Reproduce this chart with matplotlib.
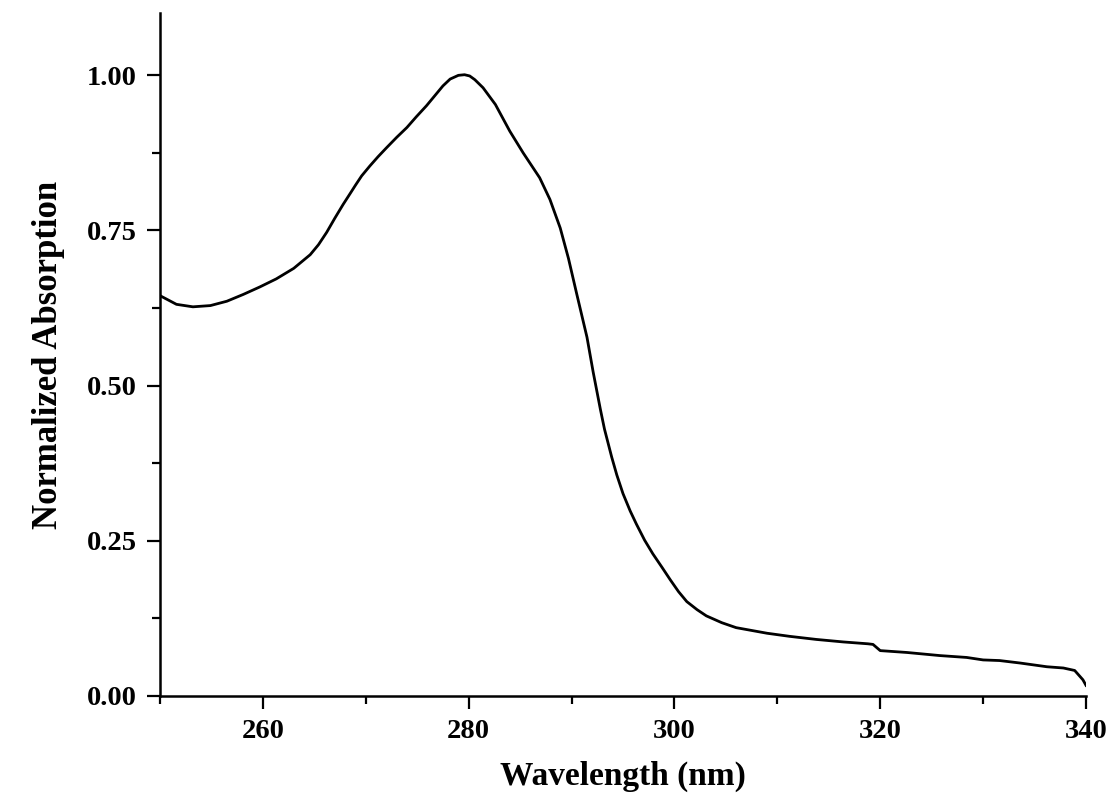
import matplotlib
matplotlib.use("Agg")
import matplotlib.pyplot as plt
from matplotlib.ticker import MultipleLocator, FixedLocator

wavelength = [250.0, 251.6, 253.2, 254.9, 256.5, 258.1, 259.7, 261.3, 263.0, 264.6,
              265.4, 266.2, 267.0, 267.8, 268.5, 269.0, 269.6, 270.4, 271.2, 272.0,
              273.0, 274.0, 274.9, 275.9, 276.7, 277.5, 278.2, 279.0, 279.6, 280.1,
              280.6, 281.4, 282.6, 284.0, 285.3, 286.9, 287.9, 288.9, 289.7, 290.5,
              291.5, 292.1, 292.8, 293.2, 293.9, 294.4, 295.0, 295.7, 296.3, 297.1,
              297.9, 298.8, 299.6, 300.4, 301.2, 302.2, 303.1, 304.6, 306.0, 309.0,
              311.2, 313.8, 316.4, 318.8, 319.3, 320.0, 322.6, 325.8, 328.4, 330.0,
              331.6, 333.6, 336.2, 337.8, 338.9, 339.7, 340.0]
absorption = [0.645, 0.631, 0.627, 0.629, 0.636, 0.647, 0.659, 0.672, 0.689, 0.711,
              0.727, 0.747, 0.770, 0.792, 0.810, 0.823, 0.838, 0.854, 0.869, 0.883,
              0.900, 0.916, 0.933, 0.951, 0.967, 0.983, 0.994, 1.000, 1.001, 0.999,
              0.993, 0.980, 0.953, 0.910, 0.875, 0.835, 0.800, 0.754, 0.705, 0.648,
              0.578, 0.522, 0.462, 0.430, 0.385, 0.356, 0.326, 0.298, 0.277, 0.251,
              0.229, 0.207, 0.187, 0.168, 0.152, 0.139, 0.129, 0.118, 0.110, 0.101,
              0.096, 0.091, 0.087, 0.084, 0.083, 0.073, 0.070, 0.065, 0.062, 0.058,
              0.057, 0.053, 0.047, 0.045, 0.041, 0.026, 0.017]

x_major = [260, 280, 300, 320, 340]
y_major = [0.00, 0.25, 0.50, 0.75, 1.00]
y_labels = ["0.00", "0.25", "0.50", "0.75", "1.00"]

plt.rcParams['font.family'] = ['Liberation Serif', 'DejaVu Serif']
plt.rcParams['font.weight'] = 'bold'

fig = plt.figure(figsize=(11.11, 8.05), dpi=100)
ax = fig.add_axes([0.144, 0.1355, 0.8335, 0.848])

ax.plot(wavelength, absorption, color='black', linewidth=2.0,
        solid_joinstyle='round')

ax.set_xlim(250, 340)
ax.set_ylim(0, 1.10)

ax.xaxis.set_major_locator(FixedLocator(x_major))
ax.xaxis.set_minor_locator(MultipleLocator(10))
ax.set_yticks(y_major)
ax.set_yticklabels(y_labels)
ax.yaxis.set_minor_locator(MultipleLocator(0.125))

for s in ['top', 'right']:
    ax.spines[s].set_visible(False)
for s in ['left', 'bottom']:
    ax.spines[s].set_linewidth(1.8)

ax.tick_params(axis='both', which='major', direction='out', length=9.5, width=1.6,
               labelsize=20.5, pad=7)
ax.tick_params(axis='both', which='minor', direction='out', length=6, width=1.6)
for lab in ax.get_xticklabels() + ax.get_yticklabels():
    lab.set_fontweight('bold')

ax.set_xlabel('Wavelength (nm)', fontsize=24, fontweight='bold', labelpad=12)
ax.set_ylabel('Normalized Absorption', fontsize=25, fontweight='bold', labelpad=16)

fig.savefig('out.png', dpi=100)
